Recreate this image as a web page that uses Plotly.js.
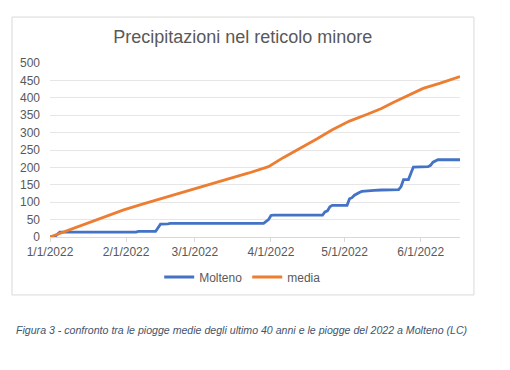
<!DOCTYPE html>
<html><head><meta charset="utf-8">
<script src="https://cdn.plot.ly/plotly-3.0.1.min.js"></script>
<style>html,body{margin:0;padding:0;background:#fff;}#chart{width:510px;height:370px;}</style>
</head><body><div id="chart"></div>
<script>
const titleText = "Precipitazioni nel reticolo minore";
const captionText = "Figura 3 - confronto tra le piogge medie degli ultimo 40 anni e le piogge del 2022 a Molteno (LC)";

const moltenoDates = ["2022-01-01","2022-01-02","2022-01-03","2022-01-04","2022-01-05","2022-02-05","2022-02-06","2022-02-13","2022-02-14","2022-02-15","2022-02-18","2022-02-19","2022-03-29","2022-03-30","2022-03-31","2022-04-01","2022-04-02","2022-04-22","2022-04-23","2022-04-24","2022-04-25","2022-04-26","2022-05-02","2022-05-03","2022-05-04","2022-05-05","2022-05-06","2022-05-07","2022-05-08","2022-05-10","2022-05-13","2022-05-16","2022-05-23","2022-05-24","2022-05-25","2022-05-27","2022-05-28","2022-05-29","2022-06-04","2022-06-05","2022-06-06","2022-06-07","2022-06-08","2022-06-17"];
const moltenoValues = [0,0,1,8,14,14,16,16,26,37,38,39,39,44,50,62,63,63,72,75,87,91,91,110,113,120,125,128,131,133,134,135,136,145,165,165,185,201,202,206,215,218,222,222];

const mediaDates = ["2022-01-01","2022-01-08","2022-01-15","2022-01-22","2022-01-31","2022-02-08","2022-02-15","2022-02-22","2022-02-28","2022-03-08","2022-03-15","2022-03-23","2022-03-31","2022-04-06","2022-04-13","2022-04-20","2022-04-26","2022-05-03","2022-05-10","2022-05-16","2022-05-21","2022-05-26","2022-05-30","2022-06-02","2022-06-09","2022-06-17"];
const mediaValues = [0,18,37,55,78,95,110,124,136,153,168,184,202,228,255,283,308,333,352,369,387,403,418,427,442,461];

const xTickVals = ["2022-01-01","2022-02-01","2022-03-01","2022-04-01","2022-05-01","2022-06-01"];
const xTickText = ["1/1/2022","2/1/2022","3/1/2022","4/1/2022","5/1/2022","6/1/2022"];
const yTickVals = [0,50,100,150,200,250,300,350,400,450,500];

const font = "Liberation Sans, Arial, sans-serif";
const traces = [
  {x: moltenoDates, y: moltenoValues, name: "Molteno", mode: "lines", line: {color: "#4472C4", width: 2.8}},
  {x: mediaDates, y: mediaValues, name: "media", mode: "lines", line: {color: "#ED7D31", width: 2.8}}
];
const layout = {
  width: 510, height: 370,
  margin: {l: 50, r: 50, t: 63, b: 133},
  paper_bgcolor: "#fff", plot_bgcolor: "#fff",
  font: {family: font, color: "#595959", size: 12},
  title: {text: titleText, x: 0.476, xanchor: "center", y: 0.9, yanchor: "middle", yref: "container",
          font: {family: font, size: 18, color: "#595959"}},
  xaxis: {type: "date", range: ["2022-01-01", "2022-06-17"], tickvals: xTickVals, ticktext: xTickText,
          showgrid: false, showline: true, linecolor: "#d9d9d9", linewidth: 1,
          ticks: "outside", ticklen: 4, tickcolor: "#d9d9d9", zeroline: false,
          tickfont: {size: 12, color: "#595959"}},
  yaxis: {range: [0, 500], tickvals: yTickVals, showgrid: true, gridcolor: "#e6e6e6", gridwidth: 1,
          zeroline: false, showline: false, ticks: "", ticklabelstandoff: 9,
          tickfont: {size: 12, color: "#595959"}},
  showlegend: true,
  legend: {orientation: "h", x: 0.47, xanchor: "center", y: -0.23, yanchor: "middle",
           font: {size: 12, color: "#595959"}, itemwidth: 30, bgcolor: "rgba(0,0,0,0)"},
  shapes: [{type: "rect", xref: "paper", yref: "paper", x0: -0.0927, x1: 1.034, y0: -0.333, y1: 1.264,
            line: {color: "#d9d9d9", width: 1}, fillcolor: "rgba(0,0,0,0)", layer: "below"}],
  annotations: [{text: "<i>" + captionText + "</i>", xref: "paper", yref: "paper", x: 0.468, y: -0.534,
                 xanchor: "center", yanchor: "middle", showarrow: false,
                 font: {family: font, size: 10.6, color: "#44546A"}}]
};
Plotly.newPlot("chart", traces, layout, {displayModeBar: false, staticPlot: true});
</script></body></html>
